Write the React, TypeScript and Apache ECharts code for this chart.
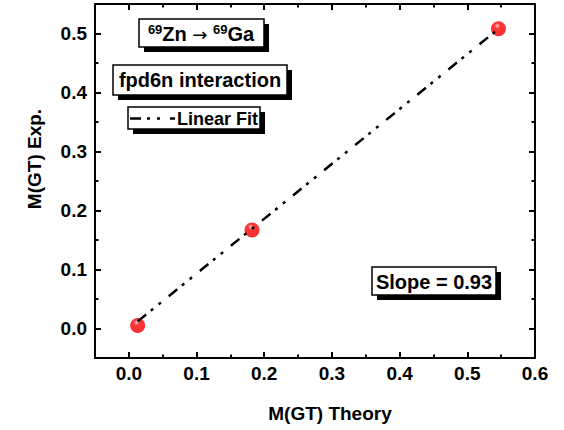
import React, { useEffect, useRef } from "react";
import * as echarts from "echarts";

const theoryX = [0.013, 0.182, 0.546];
const expY = [0.005, 0.167, 0.508];
const fitSlope = 0.93;
const fitIntercept = 0.0;
const fitX = [0.013, 0.546];
const xMajorTicks = [0, 0.1, 0.2, 0.3, 0.4, 0.5, 0.6];
const yMajorTicks = [0, 0.1, 0.2, 0.3, 0.4, 0.5];
const xTitle = "M(GT) Theory";
const yTitle = "M(GT) Exp.";
const boxTexts = ["fpd6n interaction", "Linear Fit", "Slope = 0.93"];

const FONT = "'Liberation Sans', Arial, sans-serif";

function App() {
  const ref = useRef<HTMLDivElement>(null);
  useEffect(() => {
    if (!ref.current) return;
    const chart = echarts.init(ref.current, null, { renderer: "svg" });
    const fmt = (v: number) => v.toFixed(1);
    const axisLineStyle = { lineStyle: { color: "#000", width: 2 } };
    const majorX = (position: string, labels: boolean) => ({
      type: "value",
      min: -0.05,
      max: 0.6,
      position,
      axisLine: { show: true, onZero: false, ...axisLineStyle },
      axisTick: { show: true, inside: true, length: 6, customValues: xMajorTicks, lineStyle: { color: "#000", width: 2 } },
      axisLabel: labels
        ? { show: true, customValues: xMajorTicks, formatter: fmt, fontFamily: FONT, fontWeight: "bold", fontSize: 19, color: "#000", margin: 6 }
        : { show: false },
      splitLine: { show: false },
    });
    const minorX = (position: string) => ({
      type: "value",
      min: -0.05,
      max: 0.6,
      interval: 0.05,
      position,
      axisLine: { show: false, onZero: false },
      axisTick: { show: true, inside: true, length: 3.5, lineStyle: { color: "#000", width: 2 } },
      axisLabel: { show: false },
      splitLine: { show: false },
    });
    const majorY = (position: string, labels: boolean) => ({
      type: "value",
      min: -0.05,
      max: 0.55,
      position,
      axisLine: { show: true, onZero: false, ...axisLineStyle },
      axisTick: { show: true, inside: true, length: 6, customValues: yMajorTicks, lineStyle: { color: "#000", width: 2 } },
      axisLabel: labels
        ? { show: true, customValues: yMajorTicks, formatter: fmt, fontFamily: FONT, fontWeight: "bold", fontSize: 19, color: "#000", margin: 8 }
        : { show: false },
      splitLine: { show: false },
    });
    const minorY = (position: string) => ({
      type: "value",
      min: -0.05,
      max: 0.55,
      interval: 0.05,
      position,
      axisLine: { show: false, onZero: false },
      axisTick: { show: true, inside: true, length: 3.5, lineStyle: { color: "#000", width: 2 } },
      axisLabel: { show: false },
      splitLine: { show: false },
    });

    const box = (x: number, y: number, w: number, h: number) => [
      { type: "rect", shape: { x: x + 5, y: y + 5, width: w, height: h }, style: { fill: "#000" }, z: 10 },
      { type: "rect", shape: { x, y, width: w, height: h }, style: { fill: "#fff", stroke: "#000", lineWidth: 1.5 }, z: 11 },
    ];
    const txt = (x: number, y: number, text: string, size: number, align = "center", rich?: any) => ({
      type: "text",
      x,
      y,
      z: 12,
      style: {
        text,
        fontFamily: FONT,
        fontWeight: "bold",
        fontSize: size,
        fill: "#000",
        align,
        verticalAlign: "middle",
        rich,
      },
    });

    const graphic: any[] = [
      ...box(139, 19, 125, 28),
      txt(201, 34, "{s|69}{b|Zn }{a|\u2192}{b| }{s|69}{b|Ga}", 20, "center", {
        s: { fontFamily: FONT, fontWeight: "bold", fontSize: 13, padding: [0, 0, 9, 0], fill: "#000" },
        b: { fontFamily: FONT, fontWeight: "bold", fontSize: 20, fill: "#000" },
        a: { fontFamily: "'DejaVu Sans', sans-serif", fontWeight: "normal", fontSize: 18, fill: "#000" },
      }),
      ...box(113, 65, 174, 30),
      txt(200, 80, boxTexts[0], 20),
      ...box(128, 107, 132, 22),
      {
        type: "line",
        z: 12,
        shape: { x1: 130, y1: 118.5, x2: 175, y2: 118.5 },
        style: { stroke: "#000", lineWidth: 2.5, lineDash: [11, 6, 3, 7, 3, 10] },
      },
      txt(177, 119, boxTexts[1], 18, "left"),
      ...box(372, 267, 124, 28),
      txt(434, 281.5, boxTexts[2], 20),
      {
        type: "text",
        x: 34,
        y: 159,
        rotation: Math.PI / 2,
        style: { text: yTitle, fontFamily: FONT, fontWeight: "bold", fontSize: 19, fill: "#000", align: "center", verticalAlign: "middle" },
      },
      {
        type: "text",
        x: 330,
        y: 413,
        style: { text: xTitle, fontFamily: FONT, fontWeight: "bold", fontSize: 19, fill: "#000", align: "center", verticalAlign: "middle" },
      },
    ];

    chart.setOption({
      animation: false,
      backgroundColor: "#fff",
      grid: { left: 95, top: 4, width: 440, height: 354 },
      xAxis: [majorX("bottom", true), minorX("bottom"), majorX("top", false), minorX("top")],
      yAxis: [majorY("left", true), minorY("left"), majorY("right", false), minorY("right")],
      series: [
        {
          type: "scatter",
          xAxisIndex: 0,
          yAxisIndex: 0,
          symbol: "circle",
          symbolSize: 15,
          z: 3,
          itemStyle: {
            color: {
              type: "radial",
              x: 0.42,
              y: 0.3,
              r: 0.75,
              colorStops: [
                { offset: 0, color: "#ffffff" },
                { offset: 0.1, color: "#ff7070" },
                { offset: 0.28, color: "#ff0000" },
                { offset: 0.85, color: "#f20000" },
                { offset: 1, color: "#d40000" },
              ],
            },
          },
          data: theoryX.map((x, i) => [x, expY[i]]),
        },
        {
          type: "line",
          xAxisIndex: 0,
          yAxisIndex: 0,
          z: 4,
          symbol: "none",
          lineStyle: { color: "#000", width: 2.5, type: [11, 6, 3, 7, 3, 10] },
          data: fitX.map((x) => [x, fitSlope * x + fitIntercept]),
        },
      ],
      graphic,
    });
    return () => chart.dispose();
  }, []);
  return <div ref={ref} style={{ width: 564, height: 430, position: "absolute", left: 0, top: 0 }} />;
}

export default App;
